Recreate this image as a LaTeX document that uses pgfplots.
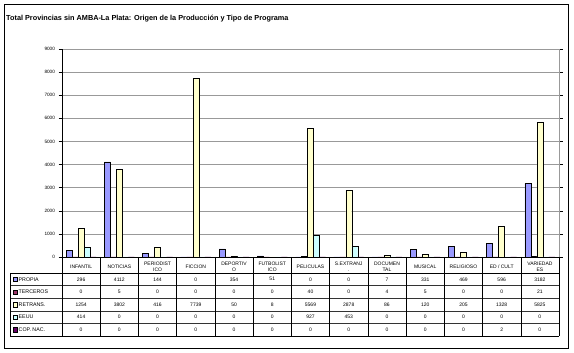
\documentclass[border=0pt]{standalone}
\usepackage{pgfplots}
\pgfplotsset{compat=1.18}
\usepackage{pgfplotstable}
\usepackage{fontspec}
\setmainfont{Liberation Sans}

\definecolor{cPropia}{RGB}{153,153,255}
\definecolor{cTerc}{RGB}{153,51,102}
\definecolor{cRet}{RGB}{255,255,204}
\definecolor{cEEUU}{RGB}{204,255,255}
\definecolor{cCop}{RGB}{102,0,102}

\pgfplotstableread{
idx propia terceros retrans eeuu copnac
0 296 0 1254 414 0
1 4112 5 3802 0 0
2 144 0 416 0 0
3 0 0 7739 0 0
4 354 0 50 0 0
5 51 0 8 0 0
6 0 40 5569 927 0
7 0 0 2878 453 0
8 7 4 86 0 0
9 331 5 120 0 0
10 469 0 205 0 0
11 596 0 1328 0 2
12 3182 21 5825 0 0
}\datatable

\newcommand{\tabfont}{\fontsize{5}{5.6}\selectfont}

\begin{document}
\begin{tikzpicture}[x=1pt,y=1pt]
\useasboundingbox (0,0) rectangle (574,353);
\draw[line width=0.7pt] (4,5) rectangle (568,349);
\node[anchor=base west, inner sep=0pt, font=\bfseries\fontsize{7.3}{8.5}\selectfont] at (6,332)
  {Total Provincias sin AMBA-La Plata: Origen de la Producción y Tipo de Programa};

\begin{axis}[
  at={(62pt,96pt)}, anchor=south west,
  scale only axis, width=497pt, height=208pt,
  xmin=-0.5, xmax=12.5, ymin=0, ymax=9000,
  ybar=0pt, bar width=6pt,
  ytick={0,1000,...,9000},
  xtick={0,...,12},
  xticklabels={INFANTIL,NOTICIAS,{PERIODIST\\ICO},FICCION,{DEPORTIV\\O},{FUTBOLIST\\ICO},PELICULAS,{S.EXTRANJ\\.},{DOCUMEN\\TAL},MUSICAL,RELIGIOSO,{ED / CULT},{VARIEDAD\\ES}},
  xticklabel style={font=\tabfont, align=center, anchor=center, yshift=-6.5pt},
  yticklabel style={font=\fontsize{4.7}{5}\selectfont},
  /pgf/number format/assume math mode=true,
  /pgf/number format/set thousands separator={},
  major x tick style={draw=none},
  ytick style={black, line width=0.4pt},
  tick align=outside, major tick length=3.5pt,
  ymajorgrids, grid style={gray!80, line width=0.5pt},
  axis line style={gray!80, line width=0.5pt},
  clip=false,
]
\addplot[fill=cPropia, draw=black, line width=0.4pt] table[x=idx, y=propia] {\datatable};
\addplot[fill=cTerc, draw=black, line width=0.4pt] table[x=idx, y=terceros] {\datatable};
\addplot[fill=cRet, draw=black, line width=0.4pt] table[x=idx, y=retrans] {\datatable};
\addplot[fill=cEEUU, draw=black, line width=0.4pt] table[x=idx, y=eeuu] {\datatable};
\addplot[fill=cCop, draw=black, line width=0.4pt] table[x=idx, y=copnac] {\datatable};
\draw[black, line width=0.5pt] (rel axis cs:0,0) -- (rel axis cs:0,1);
\draw[black, line width=0.5pt] (rel axis cs:0,0) -- (rel axis cs:1,0);
\end{axis}

% table grid
\def\colw{38.2308}
\draw[black, line width=0.4pt] (10,80) -- (559,80);
\foreach \yy in {67.4,54.8,42.2,29.6} {\draw[black!80, line width=0.4pt] (10,\yy) -- (559,\yy);}
\draw[black, line width=0.4pt] (10,17) -- (559,17);
\draw[black, line width=0.4pt] (10,80) -- (10,17);
\foreach \k in {0,...,13} {\draw[black, line width=0.4pt] ({62+\k*\colw},96) -- ({62+\k*\colw},17);}

% legend keys and row labels
\foreach \lab/\col/\j in {PROPIA/cPropia/0, TERCEROS/cTerc/1, RETRANS./cRet/2, EEUU/cEEUU/3, COP. NAC./cCop/4} {
  \fill[\col, draw=black, line width=0.3pt] (13,{73.7-\j*12.6-2.2}) rectangle (17.4,{73.7-\j*12.6+2.2});
  \node[anchor=west, inner sep=0pt, font=\fontsize{5.3}{6}\selectfont] at (18.5,{73.7-\j*12.6}) {\lab};
}

% values
\foreach \r in {0,...,12} {
  \foreach \c/\j in {propia/0,terceros/1,retrans/2,eeuu/3,copnac/4} {
    \pgfplotstablegetelem{\r}{\c}\of\datatable
    \node[inner sep=0pt, font=\tabfont] at ({62+(\r+0.5)*\colw},{73.7-\j*12.6}) {\pgfplotsretval};
  }
}
\end{tikzpicture}
\end{document}
